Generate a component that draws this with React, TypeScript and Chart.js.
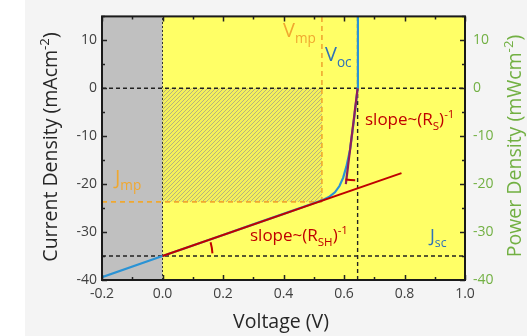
import React, { useEffect, useRef } from 'react';
import { Chart, registerables } from 'chart.js';
Chart.register(...registerables);

// ---- data ----
const curveV = [-0.2, 0, 0.1, 0.2, 0.3, 0.4, 0.5, 0.53, 0.55, 0.57, 0.585, 0.597, 0.608, 0.62, 0.632, 0.64, 0.645, 0.646];
const curveJ = [-39.4, -35, -32.8, -30.6, -28.4, -26.2, -24.0, -23.3, -22.7, -21.7, -20.4, -18.7, -16.3, -12.8, -7.0, -2.8, 0, 15];
const rshV = [0, 0.79];
const rshJ = [-35, -17.7];
const rsV = [0.606, 0.645];
const rsJ = [-20, 0];
const Vmp = 0.527;
const Jmp = -23.7;
const Voc = 0.645;
const Jsc = -35;
const xTicks = [-0.2, 0, 0.2, 0.4, 0.6, 0.8, 1.0];
const yTicks = [-40, -30, -20, -10, 0, 10];
const X_MIN = -0.2, X_MAX = 1.0, Y_MIN = -40, Y_MAX = 15;

const FONT = '"Open Sans", "DejaVu Sans", sans-serif';
const BLUE = '#2a93d5';
const LABEL_BLUE = '#2f72b8';
const RED = '#c00000';
const PURPLE = '#8e1f5a';
const ORANGE = '#f0a830';
const GREEN = '#72b043';
const DARK = '#404040';

const pts = (xs: number[], ys: number[]) => xs.map((x, i) => ({ x, y: ys[i] }));

type Part = [string, string];
function richWidth(ctx: CanvasRenderingContext2D, parts: Part[], size: number) {
  let w = 0;
  for (const [t, k] of parts) {
    ctx.font = `${k ? size * 0.68 : size}px ${FONT}`;
    w += ctx.measureText(t).width;
  }
  return w;
}
function drawRich(ctx: CanvasRenderingContext2D, parts: Part[], x: number, y: number, size: number, color: string, align: 'left' | 'center' = 'left') {
  ctx.save();
  ctx.fillStyle = color;
  ctx.textBaseline = 'alphabetic';
  ctx.textAlign = 'left';
  let cx = align === 'center' ? x - richWidth(ctx, parts, size) / 2 : x;
  for (const [t, k] of parts) {
    const s = k ? size * 0.68 : size;
    ctx.font = `${s}px ${FONT}`;
    const dy = k === 'sub' ? size * 0.28 : k === 'sup' ? -size * 0.4 : 0;
    ctx.fillText(t, cx, y + dy);
    cx += ctx.measureText(t).width;
  }
  ctx.restore();
}

let hatch: CanvasPattern | null = null;
function getHatch(ctx: CanvasRenderingContext2D) {
  if (hatch) return hatch;
  const c = document.createElement('canvas');
  c.width = 4; c.height = 4;
  const g = c.getContext('2d')!;
  g.fillStyle = '#f4f05a';
  g.fillRect(0, 0, 4, 4);
  g.strokeStyle = 'rgba(175,172,130,0.9)';
  g.lineWidth = 1;
  g.beginPath();
  g.moveTo(-1, 5); g.lineTo(5, -1);
  g.moveTo(-1, 1); g.lineTo(1, -1);
  g.moveTo(3, 5); g.lineTo(5, 3);
  g.stroke();
  hatch = ctx.createPattern(c, 'repeat');
  return hatch;
}

const decor = {
  id: 'decor',
  beforeDatasetsDraw(chart: any) {
    const { ctx, chartArea: a, scales } = chart;
    const xs = scales.x, ys = scales.y;
    ctx.save();
    ctx.fillStyle = '#ffff66';
    ctx.fillRect(a.left, a.top, a.right - a.left, a.bottom - a.top);
    const x0 = xs.getPixelForValue(0);
    ctx.fillStyle = '#c0c0c0';
    ctx.fillRect(a.left, a.top, x0 - a.left, a.bottom - a.top);
    const y0 = ys.getPixelForValue(0);
    const xm = xs.getPixelForValue(Vmp);
    const ym = ys.getPixelForValue(Jmp);
    ctx.fillStyle = getHatch(ctx) as any;
    ctx.fillRect(x0, y0, xm - x0, ym - y0);
    ctx.restore();
  },
  afterDraw(chart: any) {
    const { ctx, chartArea: a, scales } = chart;
    const xs = scales.x, ys = scales.y;
    ctx.save();
    // inward ticks
    ctx.strokeStyle = '#222';
    ctx.lineWidth = 1.5;
    ctx.beginPath();
    for (let i = 0; i <= 12; i++) {
      const v = X_MIN + i * 0.1;
      const px = Math.round(xs.getPixelForValue(v)) + 0.5;
      const L = i % 2 === 0 ? 5 : 3;
      ctx.moveTo(px, a.bottom); ctx.lineTo(px, a.bottom - L);
      ctx.moveTo(px, a.top); ctx.lineTo(px, a.top + L);
    }
    for (let v = Y_MIN; v <= Y_MAX; v += 5) {
      const py = Math.round(ys.getPixelForValue(v)) + 0.5;
      const L = v % 10 === 0 ? 5 : 3;
      ctx.moveTo(a.left, py); ctx.lineTo(a.left + L, py);
      ctx.moveTo(a.right, py); ctx.lineTo(a.right - L, py);
    }
    ctx.stroke();
    // border
    ctx.lineWidth = 2;
    ctx.strokeStyle = '#1a1a1a';
    ctx.strokeRect(a.left, a.top, a.right - a.left, a.bottom - a.top);

    // angle arcs
    ctx.strokeStyle = RED;
    ctx.lineWidth = 2;
    ctx.beginPath();
    ctx.arc(xs.getPixelForValue(0), ys.getPixelForValue(Jsc), 50, -16 * Math.PI / 180, -3 * Math.PI / 180);
    ctx.stroke();
    ctx.beginPath();
    ctx.arc(xs.getPixelForValue(Voc), ys.getPixelForValue(0), 92, 91.5 * Math.PI / 180, 97.5 * Math.PI / 180);
    ctx.stroke();

    // annotations
    drawRich(ctx, [['V', ''], ['mp', 'sub']], 283, 37, 20, ORANGE);
    drawRich(ctx, [['V', ''], ['oc', 'sub']], 325, 61, 20, LABEL_BLUE);
    drawRich(ctx, [['J', ''], ['mp', 'sub']], 115, 184, 20, ORANGE);
    drawRich(ctx, [['J', ''], ['sc', 'sub']], 430, 242, 18, LABEL_BLUE);
    drawRich(ctx, [['slope~(R', ''], ['S', 'sub'], [')', ''], ['-1', 'sup']], 365, 125, 17, RED);
    drawRich(ctx, [['slope~(R', ''], ['SH', 'sub'], [')', ''], ['-1', 'sup']], 250, 241, 17, RED);

    // axis titles
    drawRich(ctx, [['Voltage (V)', '']], 281, 328, 19.5, '#262626', 'center');
    ctx.save();
    ctx.translate(50, 147);
    ctx.rotate(-Math.PI / 2);
    drawRich(ctx, [['Current Density (mAcm', ''], ['-2', 'sup'], [')', '']], 0, 7, 19.5, '#262626', 'center');
    ctx.restore();
    ctx.save();
    ctx.translate(514, 146);
    ctx.rotate(-Math.PI / 2);
    drawRich(ctx, [['Power Density (mWcm', ''], ['-2', 'sup'], [')', '']], 0, 7, 19.5, GREEN, 'center');
    ctx.restore();
    ctx.restore();
  },
};

export default function App() {
  const ref = useRef<HTMLCanvasElement>(null);
  useEffect(() => {
    const dashed = (d: any[], color: string, dash: number[], w = 1.4) => ({
      data: d, borderColor: color, borderWidth: w, borderDash: dash, pointRadius: 0, showLine: true, order: 10, fill: false,
    });
    const tickFont = { family: FONT, size: 14 };
    const chart = new Chart(ref.current!, {
      type: 'scatter',
      data: {
        datasets: [
          dashed(pts([X_MIN, X_MAX], [0, 0]), '#222', [4, 3]),
          dashed(pts([X_MIN, X_MAX], [Jsc, Jsc]), '#222', [4, 3]),
          dashed(pts([Voc, Voc], [Y_MIN, Y_MAX]), '#222', [4, 3]),
          dashed(pts([0, 0], [Y_MIN, Y_MAX]), '#333', [2, 2], 1),
          dashed(pts([Vmp, Vmp], [Jmp, Y_MAX]), ORANGE, [5, 4], 1.6),
          dashed(pts([X_MIN, Vmp], [Jmp, Jmp]), ORANGE, [5, 4], 1.6),
          { data: pts(curveV, curveJ), borderColor: BLUE, borderWidth: 2.2, pointRadius: 0, showLine: true, order: 5, tension: 0 },
          { data: pts(rshV, rshJ), borderColor: RED, borderWidth: 2, pointRadius: 0, showLine: true, order: 2 },
          { data: pts(rsV, rsJ), borderColor: PURPLE, borderWidth: 2.2, pointRadius: 0, showLine: true, order: 1 },
        ] as any,
      },
      options: {
        animation: false,
        responsive: false,
        devicePixelRatio: 1,
        layout: { padding: { top: 12, left: 0, right: 0, bottom: 0 } },
        plugins: { legend: { display: false }, tooltip: { enabled: false } },
        scales: {
          x: {
            type: 'linear', min: X_MIN, max: X_MAX, position: 'bottom',
            afterBuildTicks: (s: any) => { s.ticks = xTicks.map((v) => ({ value: v })); },
            ticks: { callback: (v: any) => Number(v).toFixed(1), color: DARK, font: tickFont, padding: 6, maxRotation: 0, autoSkip: false },
            grid: { display: false, drawTicks: false }, border: { display: false },
            afterFit: (s: any) => { s.height = 56; },
          },
          y: {
            type: 'linear', min: Y_MIN, max: Y_MAX, position: 'left',
            afterBuildTicks: (s: any) => { s.ticks = yTicks.map((v) => ({ value: v })); },
            ticks: { color: DARK, font: tickFont, padding: 5 },
            grid: { display: false, drawTicks: false }, border: { display: false },
            afterFit: (s: any) => { s.width = 102; },
          },
          y2: {
            type: 'linear', min: Y_MIN, max: Y_MAX, position: 'right',
            afterBuildTicks: (s: any) => { s.ticks = yTicks.map((v) => ({ value: v })); },
            ticks: { color: GREEN, font: tickFont, padding: 8 },
            grid: { display: false, drawTicks: false }, border: { display: false },
            afterFit: (s: any) => { s.width = 62; },
          },
        },
      } as any,
      plugins: [decor],
    });
    return () => chart.destroy();
  }, []);
  return (
    <div style={{ position: 'fixed', left: 0, top: 0, width: 527, height: 336, background: 'linear-gradient(to right, #ffffff 0px, #ffffff 25px, #f4f4f4 25px)' }}>
      <canvas ref={ref} width={527} height={336} style={{ display: 'block' }} />
    </div>
  );
}
